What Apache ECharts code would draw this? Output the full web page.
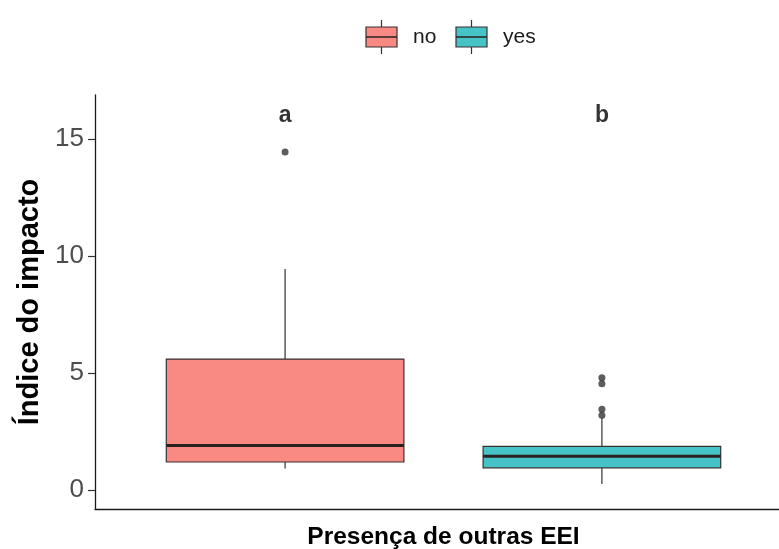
<!DOCTYPE html>
<html>
<head>
<meta charset="utf-8">
<script src="https://cdn.jsdelivr.net/npm/echarts@6/dist/echarts.min.js"></script>
<style>
  html, body { margin: 0; padding: 0; background: #fff; overflow: hidden; }
  #chart { width: 779px; height: 549px; }
</style>
</head>
<body>
<div id="chart"></div>
<script>
// Box summaries per group (x positions 1 and 2)
var categories = ['no', 'yes'];
var lowerWhisker = [0.92, 0.26];
var q1 = [1.2, 0.95];
var median = [1.9, 1.44];
var q3 = [5.6, 1.87];
var upperWhisker = [9.45, 3.1];
var outliersNo = [14.45];
var outliersYes = [3.2, 3.45, 4.55, 4.8];
// Significance letters drawn above each box
var letters = ['a', 'b'];
var letterY = 16;
var yTicks = [0, 5, 10, 15];

var fills = ['#F88A83', '#45C3C6'];
var edge = '#3a3030';
var boxWidth = 0.75;

var boxData = categories.map(function (c, i) {
  return [i + 1, lowerWhisker[i], q1[i], median[i], q3[i], upperWhisker[i]];
});

var outlierData = [];
outliersNo.forEach(function (v) { outlierData.push([1, v]); });
outliersYes.forEach(function (v) { outlierData.push([2, v]); });

var letterData = letters.map(function (l, i) { return [i + 1, letterY, l]; });

function renderBox(params, api) {
  var x = api.value(0);
  var i = params.dataIndex;
  var lo = api.coord([x, api.value(1)]);
  var b1 = api.coord([x - boxWidth / 2, api.value(2)]);
  var b2 = api.coord([x + boxWidth / 2, api.value(4)]);
  var med = api.value(3);
  var m1 = api.coord([x - boxWidth / 2, med]);
  var m2 = api.coord([x + boxWidth / 2, med]);
  var hi = api.coord([x, api.value(5)]);
  var lineStyle = { stroke: edge, lineWidth: 1.2 };
  return {
    type: 'group',
    children: [
      { type: 'line', shape: { x1: lo[0], y1: lo[1], x2: lo[0], y2: b1[1] }, style: lineStyle },
      { type: 'line', shape: { x1: hi[0], y1: hi[1], x2: hi[0], y2: b2[1] }, style: lineStyle },
      {
        type: 'rect',
        shape: { x: b1[0], y: b2[1], width: b2[0] - b1[0], height: b1[1] - b2[1] },
        style: { fill: fills[i], stroke: edge, lineWidth: 1.2 }
      },
      { type: 'line', shape: { x1: m1[0], y1: m1[1], x2: m2[0], y2: m2[1] }, style: { stroke: '#2a2020', lineWidth: 3 } }
    ]
  };
}

// Legend keys drawn as small boxplot glyphs
function legendKey(x, fill) {
  return [
    { type: 'line', shape: { x1: x + 15.5, y1: 20, x2: x + 15.5, y2: 54 }, style: { stroke: edge, lineWidth: 1.2 } },
    { type: 'rect', shape: { x: x, y: 27, width: 31, height: 20 }, style: { fill: fill, stroke: edge, lineWidth: 1.2 } },
    { type: 'line', shape: { x1: x, y1: 37, x2: x + 31, y2: 37 }, style: { stroke: '#2a2020', lineWidth: 1.5 } }
  ];
}

var chart = echarts.init(document.getElementById('chart'), null, { renderer: 'canvas' });

chart.setOption({
  backgroundColor: '#ffffff',
  animation: false,
  grid: { left: 95, right: -13, top: 95, bottom: 40, containLabel: false, outerBoundsMode: 'none' },
  xAxis: {
    type: 'value',
    min: 0.4,
    max: 2.6,
    axisLine: { show: true, onZero: false, lineStyle: { color: '#1a1a1a', width: 1.3 } },
    axisTick: { show: false },
    axisLabel: { show: false },
    splitLine: { show: false },
    name: 'Presença de outras EEI',
    nameLocation: 'middle',
    nameGap: 16,
    nameTextStyle: { fontFamily: 'Liberation Sans', fontWeight: 'bold', fontSize: 24.5, color: '#000', verticalAlign: 'top' }
  },
  yAxis: {
    type: 'value',
    min: -0.81,
    max: 16.89,
    axisLine: { show: true, onZero: false, lineStyle: { color: '#1a1a1a', width: 1.3 } },
    axisTick: { show: true, customValues: yTicks, length: 7, lineStyle: { color: '#333', width: 1.2 } },
    axisLabel: { show: true, customValues: yTicks, fontFamily: 'Liberation Sans', fontSize: 26, color: '#4D4D4D', margin: 11 },
    splitLine: { show: false },
    name: 'Índice do impacto',
    nameLocation: 'middle',
    nameRotate: 90,
    nameGap: 50,
    nameTextStyle: { fontFamily: 'Liberation Sans', fontWeight: 'bold', fontSize: 29, color: '#000' }
  },
  series: [
    {
      type: 'custom',
      renderItem: renderBox,
      data: boxData,
      encode: { x: 0, y: [1, 2, 3, 4, 5] },
      z: 2
    },
    {
      type: 'scatter',
      data: outlierData,
      symbol: 'circle',
      symbolSize: 7,
      itemStyle: { color: '#333333' },
      z: 3
    },
    {
      type: 'scatter',
      data: letterData,
      symbolSize: 0,
      label: {
        show: true,
        position: 'inside',
        formatter: function (p) { return p.data[2]; },
        fontFamily: 'Liberation Sans',
        fontWeight: 'bold',
        fontSize: 23,
        color: '#000'
      },
      z: 3
    }
  ],
  graphic: [].concat(
    legendKey(366, fills[0]),
    legendKey(456, fills[1]),
    [
      { type: 'text', style: { x: 413, y: 37, text: 'no', font: '21px "Liberation Sans"', fill: '#1a1a1a', verticalAlign: 'middle' } },
      { type: 'text', style: { x: 503, y: 37, text: 'yes', font: '21px "Liberation Sans"', fill: '#1a1a1a', verticalAlign: 'middle' } }
    ]
  )
});
</script>
</body>
</html>
